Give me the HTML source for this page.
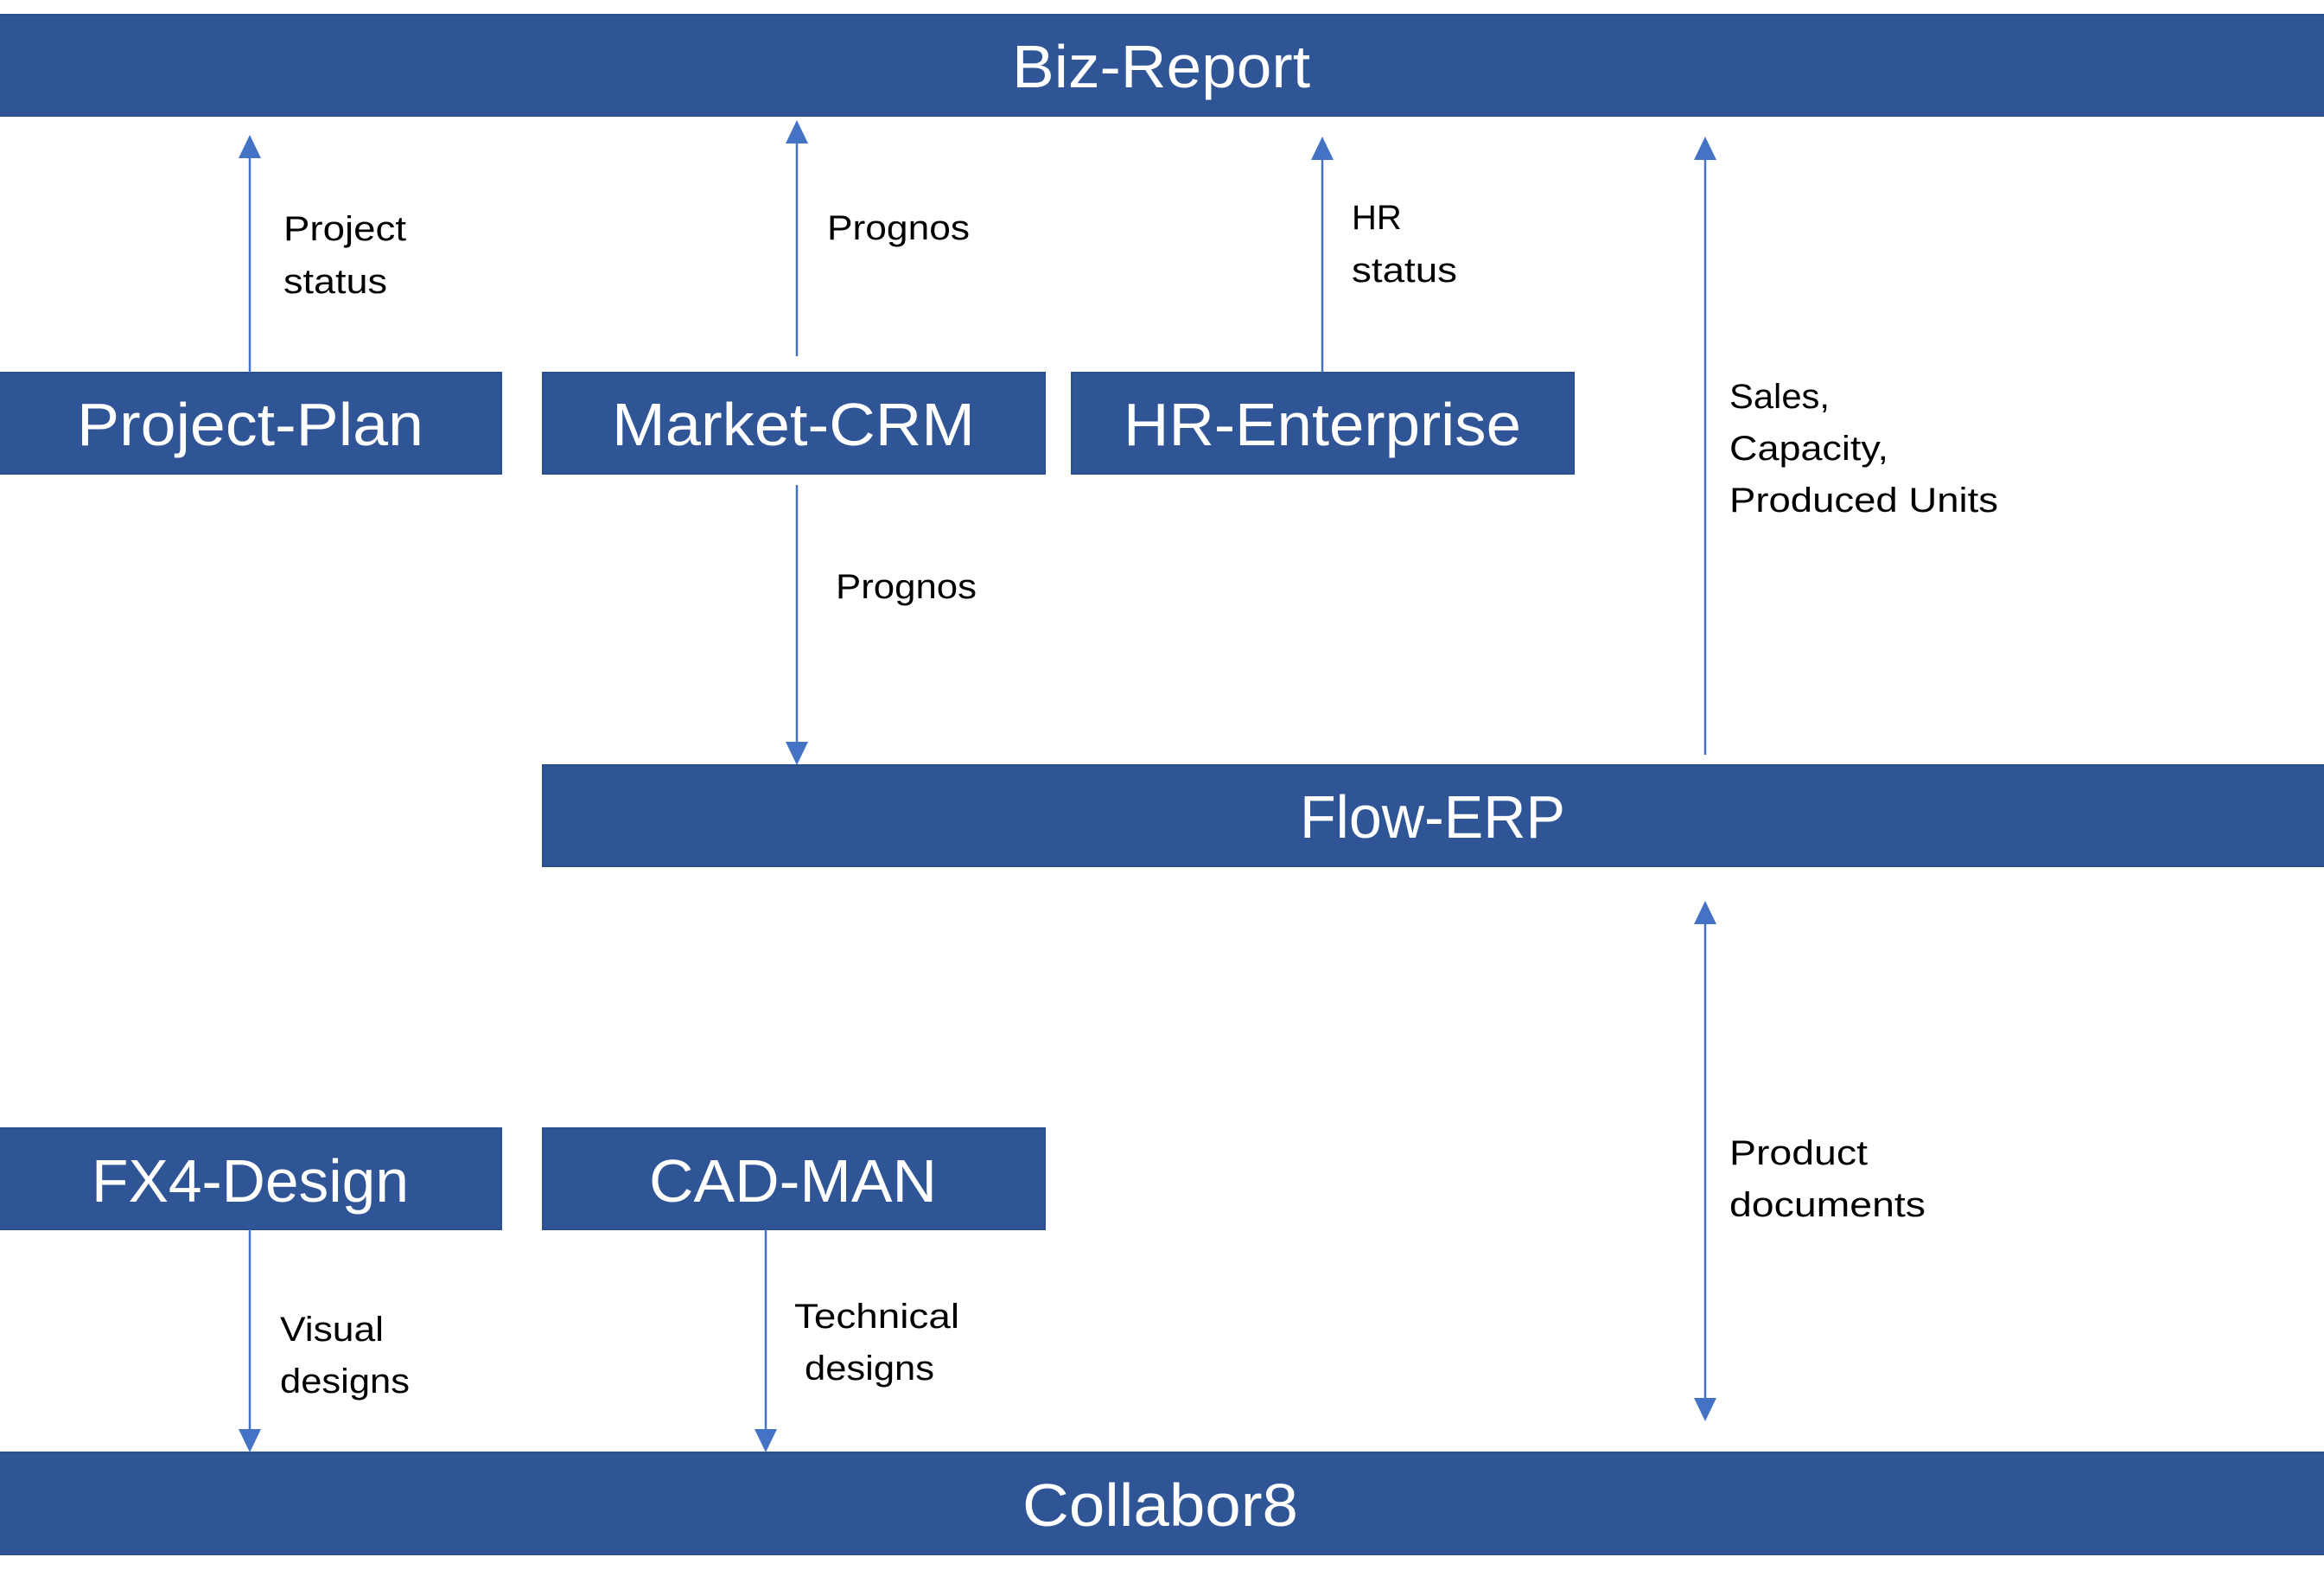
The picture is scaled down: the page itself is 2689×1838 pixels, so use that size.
<!DOCTYPE html>
<html><head><meta charset="utf-8"><style>
html,body{margin:0;padding:0;background:#fff;}
svg{display:block;}
.b{fill:#2F5597;stroke:#2B4F8C;stroke-width:2;}
.t{fill:#fff;font-family:"Liberation Sans",sans-serif;font-size:70px;}
.l{fill:#000;font-family:"Liberation Sans",sans-serif;font-size:40px;}
.c{stroke:#4472C4;stroke-width:2.5;fill:none;}
.h{fill:#4472C4;}
</style></head><body>
<svg width="2689" height="1838" viewBox="0 0 2689 1838" xmlns="http://www.w3.org/2000/svg">
<rect class="b" x="-2" y="17" width="2693" height="117"/>
<rect class="b" x="-2" y="431" width="582" height="117"/>
<rect class="b" x="628" y="431" width="581" height="117"/>
<rect class="b" x="1240" y="431" width="581" height="117"/>
<rect class="b" x="628" y="885" width="2063" height="117"/>
<rect class="b" x="-2" y="1305" width="582" height="117"/>
<rect class="b" x="628" y="1305" width="581" height="117"/>
<rect class="b" x="-2" y="1680" width="2693" height="118"/>

<text class="t" x="1171" y="101" textLength="345" lengthAdjust="spacingAndGlyphs">Biz-Report</text>
<text class="t" x="89" y="515" textLength="401" lengthAdjust="spacingAndGlyphs">Project-Plan</text>
<text class="t" x="708" y="515" textLength="420" lengthAdjust="spacingAndGlyphs">Market-CRM</text>
<text class="t" x="1300" y="515" textLength="460" lengthAdjust="spacingAndGlyphs">HR-Enterprise</text>
<text class="t" x="1504" y="969" textLength="307" lengthAdjust="spacingAndGlyphs">Flow-ERP</text>
<text class="t" x="106" y="1390" textLength="367" lengthAdjust="spacingAndGlyphs">FX4-Design</text>
<text class="t" x="751" y="1390" textLength="333" lengthAdjust="spacingAndGlyphs">CAD-MAN</text>
<text class="t" x="1183" y="1765" textLength="319" lengthAdjust="spacingAndGlyphs">Collabor8</text>

<text class="l" x="328" y="278" textLength="142" lengthAdjust="spacingAndGlyphs">Project</text>
<text class="l" x="328" y="339" textLength="120" lengthAdjust="spacingAndGlyphs">status</text>
<text class="l" x="957" y="277" textLength="165" lengthAdjust="spacingAndGlyphs">Prognos</text>
<text class="l" x="1564" y="265">HR</text>
<text class="l" x="1564" y="326" textLength="122" lengthAdjust="spacingAndGlyphs">status</text>
<text class="l" x="2001" y="472" textLength="116" lengthAdjust="spacingAndGlyphs">Sales,</text>
<text class="l" x="2001" y="532" textLength="184" lengthAdjust="spacingAndGlyphs">Capacity,</text>
<text class="l" x="2001" y="592" textLength="311" lengthAdjust="spacingAndGlyphs">Produced Units</text>
<text class="l" x="967" y="692" textLength="163" lengthAdjust="spacingAndGlyphs">Prognos</text>
<text class="l" x="2001" y="1347" textLength="160" lengthAdjust="spacingAndGlyphs">Product</text>
<text class="l" x="2001" y="1407" textLength="227" lengthAdjust="spacingAndGlyphs">documents</text>
<text class="l" x="324" y="1551" textLength="120" lengthAdjust="spacingAndGlyphs">Visual</text>
<text class="l" x="324" y="1611" textLength="150" lengthAdjust="spacingAndGlyphs">designs</text>
<text class="l" x="919" y="1536" textLength="191" lengthAdjust="spacingAndGlyphs">Technical</text>
<text class="l" x="931" y="1596" textLength="150" lengthAdjust="spacingAndGlyphs">designs</text>

<!-- connectors -->
<line class="c" x1="289" y1="431" x2="289" y2="180"/>
<polygon class="h" points="289,156 276,183 302,183"/>
<line class="c" x1="922" y1="412" x2="922" y2="162"/>
<polygon class="h" points="922,139 909,166 935,166"/>
<line class="c" x1="1530" y1="431" x2="1530" y2="180"/>
<polygon class="h" points="1530,158 1517,185 1543,185"/>
<line class="c" x1="1973" y1="873" x2="1973" y2="180"/>
<polygon class="h" points="1973,158 1960,185 1986,185"/>
<line class="c" x1="922" y1="561" x2="922" y2="862"/>
<polygon class="h" points="922,885 909,858 935,858"/>
<line class="c" x1="1973" y1="1065" x2="1973" y2="1620"/>
<polygon class="h" points="1973,1042 1960,1069 1986,1069"/>
<polygon class="h" points="1973,1644 1960,1617 1986,1617"/>
<line class="c" x1="289" y1="1422" x2="289" y2="1657"/>
<polygon class="h" points="289,1680 276,1653 302,1653"/>
<line class="c" x1="886" y1="1422" x2="886" y2="1657"/>
<polygon class="h" points="886,1680 873,1653 899,1653"/>
</svg>
</body></html>
